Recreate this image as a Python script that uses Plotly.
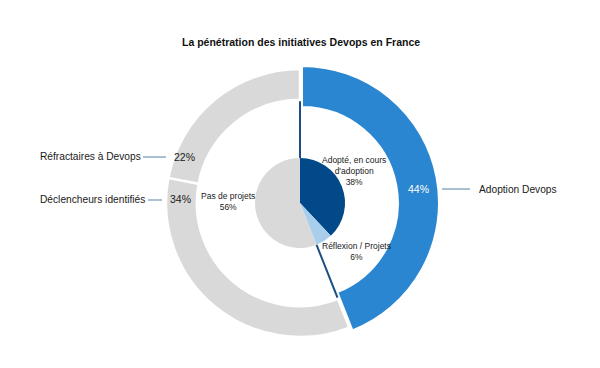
import math
import plotly.graph_objects as go

W, H = 600, 368
# the page body has a default 8px margin; compensate so pixel positions match
OX, OY = 8, 8

# ---- data ----
title = "La pénétration des initiatives Devops en France"
outer_labels = ["Adoption Devops", "Déclencheurs identifiés", "Réfractaires à Devops"]
outer_values = [44, 34, 22]
inner_labels = ["Adopté, en cours d'adoption", "Réflexion / Projets", "Pas de projets"]
inner_values = [38, 6, 56]

outer_colors = ["#2A86D0", "#D9D9D9", "#D9D9D9"]
inner_colors = ["#02498A", "#A9CEEC", "#D9D9D9"]

FONT = "Liberation Sans, Arial, sans-serif"

# geometry (pixels, as seen on screen)
CX, CY = 300, 203
R_OUT = 134
R_IN = 45


def px(x):
    return (x - OX) / W


def py(y):
    return 1 - (y - OY) / H


def dom(cx, cy, r):
    return dict(x=[px(cx - r), px(cx + r)], y=[py(cy + r), py(cy - r)])


fig = go.Figure()

# gray part of the outer ring
fig.add_trace(go.Pie(
    labels=outer_labels, values=outer_values, sort=False, direction="clockwise",
    rotation=0, hole=0.77, domain=dom(CX, CY, R_OUT),
    marker=dict(colors=["rgba(0,0,0,0)", outer_colors[1], outer_colors[2]],
                line=dict(color=["rgba(0,0,0,0)", "white", "white"], width=[0, 2.5, 2.5])),
    textinfo="none", hoverinfo="label+percent", showlegend=False,
))
# blue part of the outer ring (slightly thicker and offset outward)
fig.add_trace(go.Pie(
    labels=outer_labels, values=outer_values, sort=False, direction="clockwise",
    rotation=0, hole=0.70, domain=dom(CX + 2, CY, R_OUT + 3),
    marker=dict(colors=[outer_colors[0], "rgba(0,0,0,0)", "rgba(0,0,0,0)"],
                line=dict(color=["white", "rgba(0,0,0,0)", "rgba(0,0,0,0)"], width=[2, 0, 0])),
    textinfo="none", hoverinfo="label+percent", showlegend=False,
))
# inner pie
fig.add_trace(go.Pie(
    labels=inner_labels, values=inner_values, sort=False, direction="clockwise",
    rotation=0, domain=dom(CX, CY, R_IN),
    marker=dict(colors=inner_colors, line=dict(width=0)),
    textinfo="none", hoverinfo="label+percent", showlegend=False,
))

shapes = []
# connector lines between inner pie and outer ring, at the boundaries of the adoption group
total_in = sum(inner_values)
for frac in [0, (inner_values[0] + inner_values[1]) / total_in]:
    a = 2 * math.pi * frac
    r0, r1 = R_IN, R_OUT * 0.76
    x0, y0 = CX + r0 * math.sin(a), CY - r0 * math.cos(a)
    x1, y1 = CX + r1 * math.sin(a), CY - r1 * math.cos(a)
    shapes.append(dict(type="line", xref="paper", yref="paper",
                       x0=px(x0), y0=py(y0), x1=px(x1), y1=py(y1),
                       line=dict(color="#1B4F80", width=2)))

# leader lines for outer labels
LC = "#7096BA"
for (x0, x1, y) in [(442, 470, 189), (143, 166, 157), (148, 162, 200)]:
    shapes.append(dict(type="line", xref="paper", yref="paper",
                       x0=px(x0), y0=py(y), x1=px(x1), y1=py(y),
                       line=dict(color=LC, width=1.2)))

ann = []


def add(text, x, y, size, color="#1a1a1a", xanchor="center", bold=False):
    ann.append(dict(text=("<b>%s</b>" % text) if bold else text, x=px(x), y=py(y),
                    xref="paper", yref="paper", showarrow=False, xanchor=xanchor,
                    yanchor="middle", align="center",
                    font=dict(family=FONT, size=size, color=color)))


add(title, 301, 42, 10.5, color="#111", bold=True)
# outer percentages
add("%d%%" % outer_values[0], 418, 189, 10.5, color="white")
add("%d%%" % outer_values[1], 180, 199, 10.5)
add("%d%%" % outer_values[2], 184, 157, 10.5)
# outer names
add(outer_labels[0], 477, 189, 10.2, xanchor="left")
add(outer_labels[1], 38, 199, 10.2, xanchor="left")
add(outer_labels[2], 38, 156, 10.2, xanchor="left")
# inner labels
add("Adopté, en cours<br>d'adoption<br>%d%%" % inner_values[0], 354, 171, 8.5)
add("%s<br>%d%%" % (inner_labels[1], inner_values[1]), 356, 252, 8.5)
add("%s<br>%d%%" % (inner_labels[2], inner_values[2]), 228, 201, 8.5)

fig.update_layout(
    width=W, height=H, margin=dict(l=0, r=0, t=0, b=0),
    paper_bgcolor="white", plot_bgcolor="white",
    shapes=shapes, annotations=ann, showlegend=False,
)

fig.write_html("out.html")
